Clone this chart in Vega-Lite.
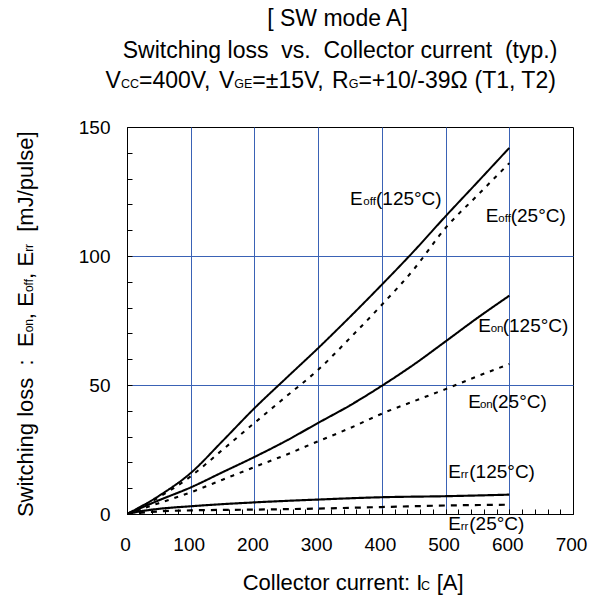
{
  "$schema": "https://vega.github.io/schema/vega-lite/v6.json",
  "width": 446,
  "height": 387,
  "autosize": {"type": "none"},
  "padding": {"left": 127, "top": 127, "right": 27, "bottom": 91},
  "background": "white",
  "config": {
    "font": "Liberation Sans",
    "view": {"stroke": "black", "strokeWidth": 1},
    "axis": {
      "domainColor": "black",
      "domainWidth": 1,
      "tickColor": "black",
      "tickSize": -5,
      "tickWidth": 1,
      "labelFont": "Liberation Sans",
      "labelFontSize": 19,
      "labelColor": "black",
      "gridColor": "#3a62b5",
      "gridWidth": 1,
      "title": null
    }
  },
  "datasets": {
    "curves": [
      {"series": "Eoff 125°C", "current": 0, "loss": 0},
      {"series": "Eoff 125°C", "current": 50, "loss": 7},
      {"series": "Eoff 125°C", "current": 100, "loss": 15.9},
      {"series": "Eoff 125°C", "current": 150, "loss": 28.3},
      {"series": "Eoff 125°C", "current": 200, "loss": 41},
      {"series": "Eoff 125°C", "current": 250, "loss": 52.7},
      {"series": "Eoff 125°C", "current": 300, "loss": 64.3},
      {"series": "Eoff 125°C", "current": 350, "loss": 76.4},
      {"series": "Eoff 125°C", "current": 400, "loss": 88.9},
      {"series": "Eoff 125°C", "current": 450, "loss": 101.8},
      {"series": "Eoff 125°C", "current": 500, "loss": 115.4},
      {"series": "Eoff 125°C", "current": 550, "loss": 128.6},
      {"series": "Eoff 125°C", "current": 600, "loss": 141.9},
      {"series": "Eoff 25°C", "current": 0, "loss": 0},
      {"series": "Eoff 25°C", "current": 50, "loss": 6.5},
      {"series": "Eoff 25°C", "current": 100, "loss": 14.6},
      {"series": "Eoff 25°C", "current": 150, "loss": 24.9},
      {"series": "Eoff 25°C", "current": 200, "loss": 35.3},
      {"series": "Eoff 25°C", "current": 250, "loss": 45.6},
      {"series": "Eoff 25°C", "current": 300, "loss": 55.9},
      {"series": "Eoff 25°C", "current": 350, "loss": 68.2},
      {"series": "Eoff 25°C", "current": 400, "loss": 81.1},
      {"series": "Eoff 25°C", "current": 450, "loss": 94.8},
      {"series": "Eoff 25°C", "current": 500, "loss": 110.9},
      {"series": "Eoff 25°C", "current": 550, "loss": 123.5},
      {"series": "Eoff 25°C", "current": 600, "loss": 136},
      {"series": "Eon 125°C", "current": 0, "loss": 0},
      {"series": "Eon 125°C", "current": 50, "loss": 5.3},
      {"series": "Eon 125°C", "current": 100, "loss": 10.3},
      {"series": "Eon 125°C", "current": 150, "loss": 16.2},
      {"series": "Eon 125°C", "current": 200, "loss": 22.1},
      {"series": "Eon 125°C", "current": 250, "loss": 28.4},
      {"series": "Eon 125°C", "current": 300, "loss": 35.3},
      {"series": "Eon 125°C", "current": 350, "loss": 42.1},
      {"series": "Eon 125°C", "current": 400, "loss": 49.7},
      {"series": "Eon 125°C", "current": 450, "loss": 57.9},
      {"series": "Eon 125°C", "current": 500, "loss": 66.9},
      {"series": "Eon 125°C", "current": 550, "loss": 76},
      {"series": "Eon 125°C", "current": 600, "loss": 84.6},
      {"series": "Eon 25°C", "current": 0, "loss": 0},
      {"series": "Eon 25°C", "current": 50, "loss": 4.2},
      {"series": "Eon 25°C", "current": 100, "loss": 8.4},
      {"series": "Eon 25°C", "current": 150, "loss": 13.3},
      {"series": "Eon 25°C", "current": 200, "loss": 18.2},
      {"series": "Eon 25°C", "current": 250, "loss": 23},
      {"series": "Eon 25°C", "current": 300, "loss": 28.2},
      {"series": "Eon 25°C", "current": 350, "loss": 33.3},
      {"series": "Eon 25°C", "current": 400, "loss": 38.9},
      {"series": "Eon 25°C", "current": 450, "loss": 43.7},
      {"series": "Eon 25°C", "current": 500, "loss": 48.4},
      {"series": "Eon 25°C", "current": 550, "loss": 53.4},
      {"series": "Eon 25°C", "current": 600, "loss": 58.1},
      {"series": "Err 125°C", "current": 0, "loss": 0},
      {"series": "Err 125°C", "current": 25, "loss": 1.2},
      {"series": "Err 125°C", "current": 50, "loss": 2},
      {"series": "Err 125°C", "current": 100, "loss": 3},
      {"series": "Err 125°C", "current": 200, "loss": 4.5},
      {"series": "Err 125°C", "current": 300, "loss": 5.6},
      {"series": "Err 125°C", "current": 400, "loss": 6.5},
      {"series": "Err 125°C", "current": 500, "loss": 6.9},
      {"series": "Err 125°C", "current": 600, "loss": 7.5},
      {"series": "Err 25°C", "current": 0, "loss": 0},
      {"series": "Err 25°C", "current": 50, "loss": 1},
      {"series": "Err 25°C", "current": 100, "loss": 1.4},
      {"series": "Err 25°C", "current": 200, "loss": 1.7},
      {"series": "Err 25°C", "current": 300, "loss": 2.1},
      {"series": "Err 25°C", "current": 400, "loss": 2.7},
      {"series": "Err 25°C", "current": 500, "loss": 3.3},
      {"series": "Err 25°C", "current": 600, "loss": 3.6}
    ],
    "texts": [
      {"part": "[ SW mode A]", "current": 330.4, "loss": 189.1, "role": "title"},
      {"part": "Switching loss\u00a0 vs.\u00a0 Collector current\u00a0 (typ.)", "current": 334.3, "loss": 176.6, "role": "title"},
      {"part": "V", "current": -33.6, "loss": 165.0, "role": "big"},
      {"part": "CC", "current": -9.6, "loss": 165.0, "role": "bigsub"},
      {"part": "=400V,", "current": 18.8, "loss": 165.0, "role": "big"},
      {"part": "V", "current": 144.2, "loss": 165.0, "role": "big"},
      {"part": "GE", "current": 168.3, "loss": 165.0, "role": "bigsub"},
      {"part": "=±15V,", "current": 196.7, "loss": 165.0, "role": "big"},
      {"part": "R", "current": 321.9, "loss": 165.0, "role": "big"},
      {"part": "G", "current": 348.0, "loss": 165.0, "role": "bigsub"},
      {"part": "=+10/-39Ω", "current": 363.2, "loss": 165.0, "role": "big"},
      {"part": "(T1, T2)", "current": 545.4, "loss": 165.0, "role": "big"},
      {"part": "Collector current: I", "current": 181.6, "loss": -29.5, "role": "xt"},
      {"part": "C", "current": 461.5, "loss": -29.5, "role": "bigsub"},
      {"part": "[A]", "current": 486.1, "loss": -29.5, "role": "xt"},
      {"part": "E", "current": 350.0, "loss": 119.8, "role": "label"},
      {"part": "off", "current": 370.9, "loss": 119.8, "role": "labelsub"},
      {"part": "(125°C)", "current": 390.8, "loss": 119.8, "role": "label"},
      {"part": "E", "current": 563.0, "loss": 113.3, "role": "label"},
      {"part": "off", "current": 582.8, "loss": 113.3, "role": "labelsub"},
      {"part": "(25°C)", "current": 602.2, "loss": 113.3, "role": "label"},
      {"part": "E", "current": 551.4, "loss": 70.7, "role": "label"},
      {"part": "on", "current": 570.8, "loss": 70.7, "role": "labelsub"},
      {"part": "(125°C)", "current": 589.7, "loss": 70.7, "role": "label"},
      {"part": "E", "current": 535.7, "loss": 41.1, "role": "label"},
      {"part": "on", "current": 554.0, "loss": 41.1, "role": "labelsub"},
      {"part": "(25°C)", "current": 572.4, "loss": 41.1, "role": "label"},
      {"part": "E", "current": 504.3, "loss": 13.8, "role": "label"},
      {"part": "rr", "current": 523.7, "loss": 13.8, "role": "labelsub"},
      {"part": "(125°C)", "current": 537.2, "loss": 13.8, "role": "label"},
      {"part": "E", "current": 504.3, "loss": -6.2, "role": "label"},
      {"part": "rr", "current": 523.7, "loss": -6.2, "role": "labelsub"},
      {"part": "(25°C)", "current": 537.2, "loss": -6.2, "role": "label"},
      {"part": "Switching loss", "current": -147.1, "loss": -1.2, "role": "ytitle"},
      {"part": ":", "current": -147.1, "loss": 57.6, "role": "ytitle"},
      {"part": "E", "current": -147.1, "loss": 64.7, "role": "ytitle"},
      {"part": "on", "current": -147.1, "loss": 70.4, "role": "ytitlesub"},
      {"part": ",", "current": -147.1, "loss": 75.5, "role": "ytitle"},
      {"part": "E", "current": -147.1, "loss": 80.3, "role": "ytitle"},
      {"part": "off", "current": -147.1, "loss": 86.0, "role": "ytitlesub"},
      {"part": ",", "current": -147.1, "loss": 91.1, "role": "ytitle"},
      {"part": "E", "current": -147.1, "loss": 95.9, "role": "ytitle"},
      {"part": "rr", "current": -147.1, "loss": 101.6, "role": "ytitlesub"},
      {"part": "[mJ/pulse]", "current": -147.1, "loss": 109.4, "role": "ytitle"}
    ]
  },
  "encoding": {
    "x": {
      "field": "current", "type": "quantitative",
      "scale": {"domain": [0, 700], "nice": false, "zero": false},
      "axis": {
        "values": [0,20,40,60,80,100,120,140,160,180,200,220,240,260,280,300,320,340,360,380,400,420,440,460,480,500,520,540,560,580,600,620,640,660,680,700],
        "labelExpr": "datum.value % 100 === 0 ? datum.label : ''",
        "labelPadding": 26,
        "labelOffset": -2,
        "labelFlush": false,
        "labelOverlap": false,
        "grid": true,
        "gridOpacity": {"condition": {"test": "datum.value % 100 === 0 && datum.value > 0 && datum.value < 700", "value": 1}, "value": 0}
      }
    },
    "y": {
      "field": "loss", "type": "quantitative",
      "scale": {"domain": [0, 150], "nice": false, "zero": false},
      "axis": {
        "values": [0,10,20,30,40,50,60,70,80,90,100,110,120,130,140,150],
        "labelExpr": "datum.value % 50 === 0 ? datum.label : ''",
        "labelPadding": 22,
        "labelFlush": false,
        "labelOverlap": false,
        "grid": true,
        "gridOpacity": {"condition": {"test": "datum.value % 50 === 0 && datum.value > 0 && datum.value < 150", "value": 1}, "value": 0}
      }
    }
  },
  "layer": [
    {
      "data": {"name": "curves"},
      "mark": {"type": "line", "color": "black", "clip": true, "interpolate": "monotone"},
      "encoding": {
        "detail": {"field": "series", "type": "nominal"},
        "strokeDash": {
          "field": "series", "type": "nominal", "legend": null,
          "scale": {
            "domain": ["Eoff 125°C", "Eoff 25°C", "Eon 125°C", "Eon 25°C", "Err 125°C", "Err 25°C"],
            "range": [[1, 0], [4, 6], [1, 0], [4, 6], [1, 0], [6, 6]]
          }
        },
        "strokeWidth": {
          "field": "series", "type": "nominal", "legend": null,
          "scale": {
            "domain": ["Eoff 125°C", "Eoff 25°C", "Eon 125°C", "Eon 25°C", "Err 125°C", "Err 25°C"],
            "range": [2, 2.2, 2, 2.2, 2, 2.6]
          }
        }
      }
    },
    {
      "data": {"name": "texts"},
      "transform": [{"filter": "datum.role === 'title'"}],
      "mark": {"type": "text", "align": "center", "baseline": "alphabetic", "fontSize": 23, "color": "black"},
      "encoding": {"text": {"field": "part"}}
    },
    {
      "data": {"name": "texts"},
      "transform": [{"filter": "datum.role === 'big'"}],
      "mark": {"type": "text", "align": "left", "baseline": "alphabetic", "fontSize": 23, "color": "black"},
      "encoding": {"text": {"field": "part"}}
    },
    {
      "data": {"name": "texts"},
      "transform": [{"filter": "datum.role === 'xt'"}],
      "mark": {"type": "text", "align": "left", "baseline": "alphabetic", "fontSize": 22, "color": "black"},
      "encoding": {"text": {"field": "part"}}
    },
    {
      "data": {"name": "texts"},
      "transform": [{"filter": "datum.role === 'bigsub'"}],
      "mark": {"type": "text", "align": "left", "baseline": "alphabetic", "fontSize": 12.5, "color": "black"},
      "encoding": {"text": {"field": "part"}}
    },
    {
      "data": {"name": "texts"},
      "transform": [{"filter": "datum.role === 'label'"}],
      "mark": {"type": "text", "align": "left", "baseline": "alphabetic", "fontSize": 19, "color": "black"},
      "encoding": {"text": {"field": "part"}}
    },
    {
      "data": {"name": "texts"},
      "transform": [{"filter": "datum.role === 'labelsub'"}],
      "mark": {"type": "text", "align": "left", "baseline": "alphabetic", "fontSize": 11.5, "color": "black"},
      "encoding": {"text": {"field": "part"}}
    },
    {
      "data": {"name": "texts"},
      "transform": [{"filter": "datum.role === 'ytitle'"}],
      "mark": {"type": "text", "align": "left", "baseline": "alphabetic", "fontSize": 22, "angle": 270, "color": "black"},
      "encoding": {"text": {"field": "part"}}
    },
    {
      "data": {"name": "texts"},
      "transform": [{"filter": "datum.role === 'ytitlesub'"}],
      "mark": {"type": "text", "align": "left", "baseline": "alphabetic", "fontSize": 12, "angle": 270, "color": "black"},
      "encoding": {"text": {"field": "part"}}
    }
  ]
}
